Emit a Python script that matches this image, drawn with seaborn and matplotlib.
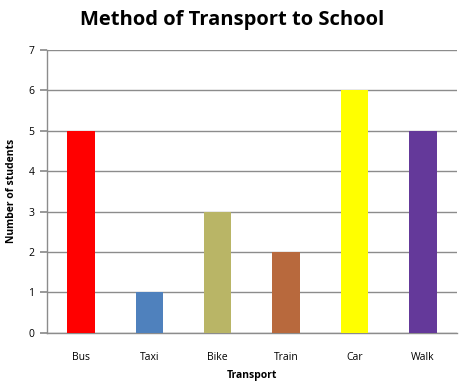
import matplotlib
matplotlib.use("Agg")
import matplotlib.pyplot as plt
import seaborn as sns
import pandas as pd

# Data
transport = ["Bus", "Taxi", "Bike", "Train", "Car", "Walk"]
students = [5, 1, 3, 2, 6, 5]
bar_colors = ["#FF0000", "#4F81BD", "#B9B566", "#B8693D", "#FFFF00", "#64399A"]
y_ticks = [0, 1, 2, 3, 4, 5, 6, 7]

sns.set_theme(style="white")
plt.rcParams["font.family"] = ["Open Sans", "DejaVu Sans"]
plt.rcParams["text.color"] = "black"
plt.rcParams["axes.labelcolor"] = "black"
plt.rcParams["xtick.color"] = "black"
plt.rcParams["ytick.color"] = "black"

df = pd.DataFrame({"Transport": transport, "Students": students})

fig = plt.figure(figsize=(4.64, 3.87), dpi=100)
ax = fig.add_axes([0.101, 0.140, 0.884, 0.731])

sns.barplot(data=df, x="Transport", y="Students", hue="Transport",
            palette=bar_colors, saturation=1, width=0.4, linewidth=0,
            legend=False, ax=ax, zorder=3)

ax.set_ylim(0, 7)
ax.set_yticks(y_ticks)
ax.yaxis.grid(True, color="#8C8C8C", linewidth=1)
ax.set_axisbelow(True)

for side in ["top", "right"]:
    ax.spines[side].set_visible(False)
for side in ["left", "bottom"]:
    ax.spines[side].set_color("#8C8C8C")
    ax.spines[side].set_linewidth(1)

ax.tick_params(axis="y", left=True, length=5, color="#8C8C8C", labelsize=7.5, pad=4)
ax.tick_params(axis="x", bottom=False, labelsize=7.5, pad=8)

ax.set_xlabel("Transport", fontsize=7.5, fontweight="bold", labelpad=5)
ax.set_ylabel("Number of students", fontsize=7.5, fontweight="bold", labelpad=8)

fig.suptitle("Method of Transport to School", fontsize=14.5, fontweight="bold",
             x=0.5, y=0.975)

fig.savefig("out.png", dpi=100, facecolor="white")
